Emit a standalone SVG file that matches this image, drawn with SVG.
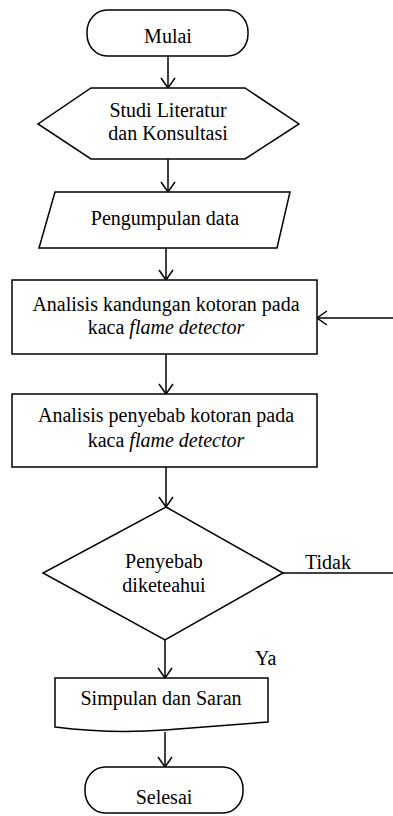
<svg xmlns="http://www.w3.org/2000/svg" width="393" height="816" viewBox="0 0 393 816">
<defs>
<style>
.s{fill:#fff;stroke:#000;stroke-width:1.5}
.c{fill:none;stroke:#000;stroke-width:1.5}
.t{font-size:20px;fill:#000;text-anchor:middle}
.l{font-size:20px;fill:#000;text-anchor:start}
</style>
<marker id="ah" viewBox="-11 -8 12 16" refX="0" refY="0" markerWidth="12" markerHeight="16" markerUnits="userSpaceOnUse" orient="auto">
<path d="M-10,-7 L0,0 L-10,7" fill="none" stroke="#000" stroke-width="1.5"/>
</marker>
</defs>
<rect width="393" height="816" fill="#fff"/>
<g font-family="'Liberation Serif', 'Times New Roman', serif">
<g id="connectors">
<line class="c" x1="168" y1="56" x2="168" y2="88" marker-end="url(#ah)"/>
<line class="c" x1="168" y1="159" x2="168" y2="192" marker-end="url(#ah)"/>
<line class="c" x1="166" y1="248" x2="166" y2="280" marker-end="url(#ah)"/>
<line class="c" x1="166" y1="354" x2="166" y2="394" marker-end="url(#ah)"/>
<line class="c" x1="166" y1="467" x2="166" y2="507" marker-end="url(#ah)"/>
<line class="c" x1="165" y1="640" x2="165" y2="678" marker-end="url(#ah)"/>
<line class="c" x1="165" y1="732" x2="165" y2="767" marker-end="url(#ah)"/>
<line class="c" x1="393" y1="318" x2="317" y2="318" marker-end="url(#ah)"/>
<line class="c" x1="283" y1="573" x2="393" y2="573"/>
<text class="l" x="305" y="569">Tidak</text>
<text class="l" x="255" y="665">Ya</text>
</g>
<g id="mulai">
<rect class="s" x="87" y="10" width="161" height="46" rx="20" ry="22"/>
<text class="t" x="168" y="43">Mulai</text>
</g>
<g id="studi">
<polygon class="s" points="91,88 245,88 299,124 245,159 91,159 38,124"/>
<text class="t" x="168" y="117">Studi Literatur</text>
<text class="t" x="168" y="140">dan Konsultasi</text>
</g>
<g id="pengumpulan">
<polygon class="s" points="55,192 290,192 277,248 39,248"/>
<text class="t" x="165" y="225">Pengumpulan data</text>
</g>
<g id="analisis1">
<rect class="s" x="12" y="280" width="305" height="74"/>
<text class="t" x="166" y="311">Analisis kandungan kotoran pada</text>
<text class="t" x="166" y="334">kaca <tspan font-style="italic">flame detector</tspan></text>
</g>
<g id="analisis2">
<rect class="s" x="12" y="394" width="305" height="73"/>
<text class="t" x="166" y="422">Analisis penyebab kotoran pada</text>
<text class="t" x="166" y="447">kaca <tspan font-style="italic">flame detector</tspan></text>
</g>
<g id="keputusan">
<polygon class="s" points="166,507 283,573 165,640 43,573"/>
<text class="t" x="164" y="568">Penyebab</text>
<text class="t" x="164" y="592">diketeahui</text>
</g>
<g id="simpulan">
<path class="s" d="M55,678 L268,678 L268,722 Q215,726 165,730 Q110,734 55,727 Z"/>
<text class="t" x="161" y="705">Simpulan dan Saran</text>
</g>
<g id="selesai">
<rect class="s" x="85" y="767" width="158" height="46" rx="20" ry="22"/>
<text class="t" x="164" y="804">Selesai</text>
</g>
</g>
</svg>
